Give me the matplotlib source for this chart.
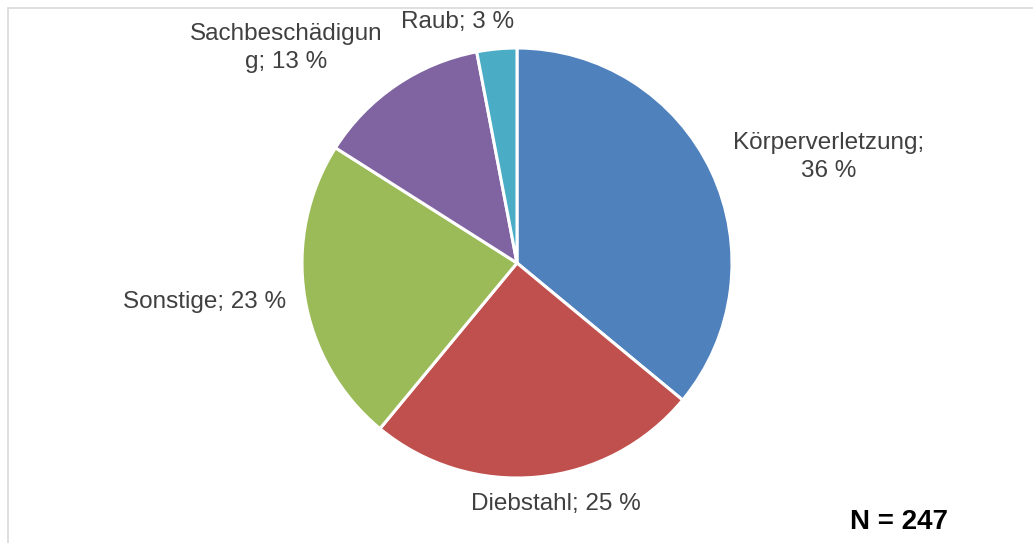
import matplotlib
matplotlib.use("Agg")
import matplotlib.pyplot as plt
from matplotlib.patches import Rectangle

# Anteile je Deliktart (N = 247)
categories = ["Körperverletzung", "Diebstahl", "Sonstige", "Sachbeschädigung", "Raub"]
shares = [36, 25, 23, 13, 3]
colors = ["#4F81BD", "#C0504D", "#9BBB59", "#8064A2", "#4BACC6"]
label_texts = ["Körperverletzung;\n36 %", "Diebstahl; 25 %", "Sonstige; 23 %",
               "Sachbeschädigun\ng; 13 %", "Raub; 3 %"]

plt.rcParams["font.family"] = ["Liberation Sans", "DejaVu Sans"]
W, H = 1033, 543
fig = plt.figure(figsize=(W / 100, H / 100), dpi=100)

# light frame around the chart area
fig.patches.append(Rectangle((8 / W, -0.05), 1.1, 1 - 8 / H + 0.05, transform=fig.transFigure,
                             fill=False, edgecolor="#D9D9D9", linewidth=1.2))

cx, cy, r = 517, 263, 215
ax = fig.add_axes([(cx - r) / W, (H - cy - r) / H, 2 * r / W, 2 * r / H])
ax.pie(shares, colors=colors, startangle=90, counterclock=False, radius=1,
       wedgeprops=dict(edgecolor="white", linewidth=2.2))
ax.set_xlim(-1, 1)
ax.set_ylim(-1, 1)
ax.set_aspect("auto")
ax.axis("off")

# label positions in pixels (centre of text block)
label_pos = [(829, 157), (556, 504), (205, 302), (286, 48), (458, 22)]
for txt, (x, y) in zip(label_texts, label_pos):
    fig.text(x / W, 1 - y / H, txt, ha="center", va="center", fontsize=17.5,
             color="#404040", linespacing=1.4)

fig.text(899 / W, 1 - 522 / H, "N = 247", ha="center", va="center", fontsize=20,
         fontweight="bold", color="black")

fig.savefig("out.png", dpi=100)
